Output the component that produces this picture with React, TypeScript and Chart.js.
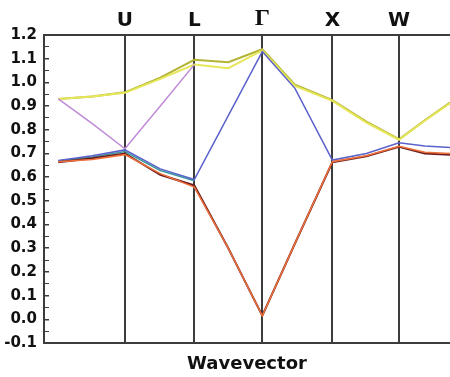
import React, { useEffect, useRef } from "react";
import { Chart, registerables } from "chart.js";

Chart.register(...registerables);

// Wavevector positions (arbitrary path-length units)
const K = [0.21, 0.71, 1.19, 1.71, 2.21, 2.71, 3.21, 3.69, 4.24, 4.74, 5.22, 5.6, 5.97];
const X_MIN = 0;
const X_MAX = 5.97;

// High-symmetry points
const SYM_POS = [1.19, 2.21, 3.21, 4.24, 5.22];
const SYM_LABELS = ["U", "L", "Γ", "X", "W"];

// Energy ticks
const Y_MIN = -0.1;
const Y_MAX = 1.2;
const Y_STEP = 0.05;
const X_TITLE = "Wavevector";

// Branch energies at K
const yellowA = [0.93, 0.94, 0.958, 1.02, 1.095, 1.085, 1.14, 0.99, 0.925, 0.834, 0.76, 0.84, 0.915];
const yellowB = [0.93, 0.94, 0.956, 1.015, 1.075, 1.06, 1.135, 0.985, 0.922, 0.83, 0.758, 0.838, 0.912];
const violet = [0.93, 0.826, 0.72, 0.9, 1.075];
const blue = [0.67, 0.69, 0.715, 0.635, 0.59, 0.86, 1.13, 0.975, 0.672, 0.7, 0.745, 0.732, 0.725];
const teal = [0.668, 0.685, 0.708, 0.628, 0.585];
const darkRed = [0.663, 0.68, 0.7, 0.61, 0.565, 0.3, 0.015, 0.32, 0.663, 0.688, 0.728, 0.7, 0.695];
const red = [0.665, 0.675, 0.695, 0.615, 0.558, 0.3, 0.015, 0.32, 0.665, 0.69, 0.73, 0.705, 0.7];

const pts = (vals: number[]) => vals.map((v, i) => ({ x: K[i], y: v }));

export default function App() {
  const ref = useRef<HTMLCanvasElement | null>(null);
  useEffect(() => {
    document.body.style.margin = "0";
    const canvas = ref.current;
    if (!canvas) return;
    const line = (data: number[], color: string, width: number) => ({
      data: pts(data),
      borderColor: color,
      backgroundColor: color,
      borderWidth: width,
      pointRadius: 0,
      tension: 0,
      fill: false,
    });
    const axisColor = "#3c3c3c";
    const isMajor = (v: number) => Math.abs(Math.round(v * 10) - v * 10) < 1e-6;
    const chart = new Chart(canvas, {
      type: "line",
      data: {
        datasets: [
          line(red, "#f0703c", 1.5),
          line(darkRed, "#6a1e1e", 2),
          line(blue, "#5b62cc", 1.5),
          line(teal, "#3a9a9a", 1.5),
          line(violet, "#c08ad8", 1.5),
          line(yellowB, "#e6e65a", 2),
          line(yellowA, "#b4b434", 2),
        ],
      },
      options: {
        animation: false,
        responsive: true,
        maintainAspectRatio: false,
        layout: { padding: 0 },
        plugins: { legend: { display: false }, tooltip: { enabled: false } },
        scales: {
          x: {
            type: "linear",
            position: "bottom",
            min: X_MIN,
            max: X_MAX,
            grid: { display: false },
            border: { display: true, color: axisColor, width: 2 },
            ticks: { display: false },
            title: {
              display: true,
              text: X_TITLE,
              color: "#111",
              font: { family: "DejaVu Sans", weight: "bold", size: 18 },
              padding: { top: 0, bottom: 2 },
            },
            afterFit: (s: any) => {
              s.height = 34;
            },
          },
          xTop: {
            type: "linear",
            position: "top",
            min: X_MIN,
            max: X_MAX,
            afterBuildTicks: (s: any) => {
              s.ticks = SYM_POS.map((v) => ({ value: v }));
            },
            ticks: {
              autoSkip: false,
              maxRotation: 0,
              padding: 2,
              color: "#111",
              callback: (_v: any, i: number) => SYM_LABELS[i],
              font: (ctx: any) =>
                ctx.index === 2
                  ? { family: "Liberation Serif", weight: "bold", size: 24 }
                  : { family: "DejaVu Sans", weight: "bold", size: 20 },
            },
            grid: {
              display: true,
              drawOnChartArea: true,
              drawTicks: false,
              color: axisColor,
              lineWidth: 2,
            },
            border: { display: true, color: axisColor, width: 2 },
            afterFit: (s: any) => {
              s.height = 35;
            },
          },
          y: {
            type: "linear",
            position: "left",
            min: Y_MIN,
            max: Y_MAX,
            ticks: {
              stepSize: Y_STEP,
              autoSkip: false,
              padding: 12,
              color: "#111",
              font: { family: "DejaVu Sans", weight: "bold", size: 15 },
              callback: (v: any) => (isMajor(Number(v)) ? Number(v).toFixed(1) : ""),
            },
            grid: {
              display: true,
              drawOnChartArea: false,
              drawTicks: true,
              tickLength: -5,
              color: axisColor,
              lineWidth: (ctx: any) => (ctx.tick && isMajor(ctx.tick.value) ? 1.5 : 1),
            },
            border: { display: true, color: axisColor, width: 2 },
            afterFit: (s: any) => {
              s.width = 44;
            },
          },
        },
      },
    } as any);
    return () => chart.destroy();
  }, []);
  return (
    <div style={{ width: 450, height: 377, position: "relative", background: "#fff" }}>
      <canvas ref={ref} />
    </div>
  );
}
